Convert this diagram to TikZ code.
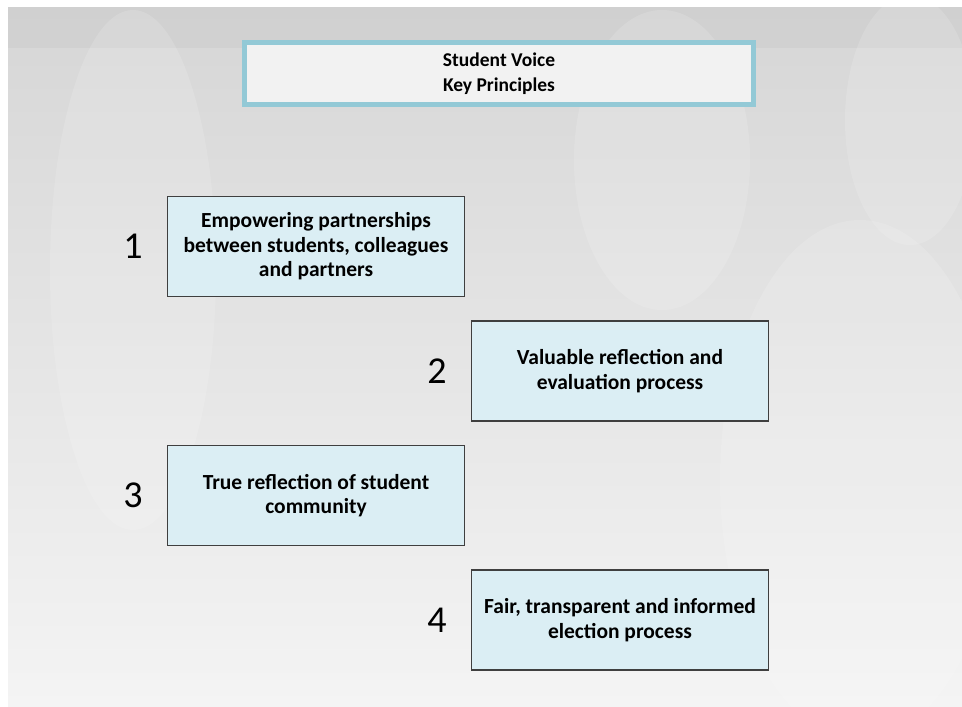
\documentclass[tikz,border=0pt]{standalone}
\usepackage{fontspec}
\setmainfont{Carlito}
\usetikzlibrary{positioning}
\definecolor{slidetop}{HTML}{D6D6D6}
\definecolor{slidebot}{HTML}{F4F4F4}
\definecolor{bandgray}{HTML}{CDCDCD}
\definecolor{titlefill}{HTML}{F2F2F2}
\definecolor{titleline}{HTML}{93C9D6}
\definecolor{boxfill}{HTML}{DBEEF4}
\definecolor{boxline}{HTML}{3F3F3F}
\tikzset{
  principle/.style={draw=boxline,fill=boxfill,line width=1.2pt,minimum width=297pt,
    minimum height=100pt,align=center,font=\fontsize{21.5}{24.5}\selectfont\bfseries,inner sep=0pt},
  number/.style={font=\fontsize{38}{38}\selectfont,inner sep=0pt},
  blob/.style={fill=white,opacity=0.14}
}
\begin{document}
\begin{tikzpicture}[x=1pt,y=-1pt]
\useasboundingbox (0,0) rectangle (962,707);
% slide background
\fill[white] (0,0) rectangle (962,707);
\shade[top color=slidetop,bottom color=slidebot] (8,7) rectangle (962,707);
\fill[bandgray,opacity=0.6] (8,7) rectangle (962,48);
\begin{scope}
\clip (8,7) rectangle (962,707);
\fill[blob] (133,270) ellipse (83 and 260);
\fill[blob] (662,160) ellipse (88 and 150);
\fill[blob] (910,120) ellipse (65 and 125);
\fill[blob] (860,480) ellipse (140 and 260);
\end{scope}
% title
\node (title) [draw=titleline,fill=titlefill,line width=5pt,minimum width=509pt,minimum height=62pt,
  align=center,font=\fontsize{19.5}{25}\selectfont\bfseries] at (499,73.5) {Student Voice\\Key Principles};
% principles
\node (b1) [principle] at (316,246.5) {Empowering partnerships\\between students, colleagues\\and partners};
\node (b2) [principle] at (620,371) {Valuable reflection and\\evaluation process};
\node (b3) [principle] at (316,495.5) {True reflection of student\\community};
\node (b4) [principle] at (620,620) {Fair, transparent and informed\\election process};
\node (n1) [number,left=24pt of b1] {1};
\node (n2) [number,left=24pt of b2] {2};
\node (n3) [number,left=24pt of b3] {3};
\node (n4) [number,left=24pt of b4] {4};
\end{tikzpicture}
\end{document}
